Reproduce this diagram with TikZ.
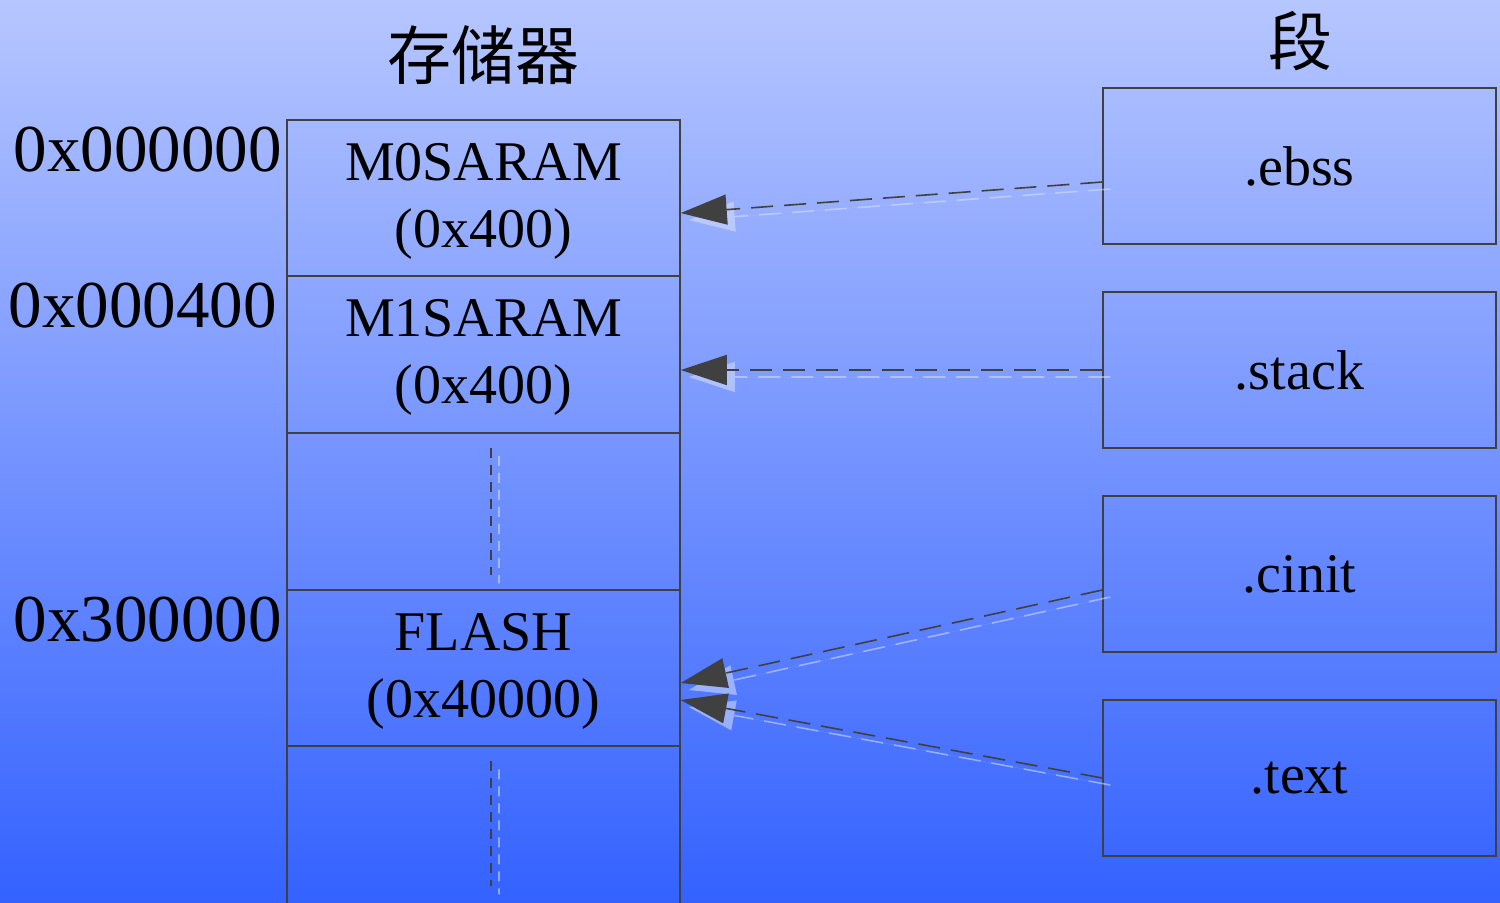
\documentclass[tikz,border=0pt]{standalone}
\usepackage{fontspec}
\setmainfont{Liberation Serif}
\newfontfamily\cjk{Noto Sans CJK SC}
\usetikzlibrary{arrows.meta,calc}
\definecolor{bgtop}{RGB}{182,198,255}
\definecolor{bgbot}{RGB}{52,98,255}
\definecolor{ink}{RGB}{64,64,64}
\definecolor{shade}{RGB}{215,225,255}
\begin{document}
\begin{tikzpicture}[x=0.5pt,y=-0.5pt,
  box/.style={draw=ink, line width=0.75pt, minimum width=196.5pt, minimum height=78pt,
    inner sep=0pt, font=\fontsize{28}{33.5}\selectfont, align=center, text=black},
  twoline/.style={text depth=3pt},
  addr/.style={anchor=east, inner sep=0pt, font=\fontsize{33.5}{40}\selectfont},
  title/.style={inner sep=0pt, font=\cjk\fontsize{32}{38}\selectfont},
  linkline/.style={draw=ink, line width=0.8pt, dash pattern=on 11pt off 5.5pt,
    -{Triangle[length=23pt,width=15pt]}},
  linkshade/.style={draw=shade, fill=shade, line width=0.8pt,
    dash pattern=on 11pt off 5.5pt, -{Triangle[length=23pt,width=15pt]},
    transform canvas={shift={(4pt,-3.5pt)}}},
  gapline/.style={draw=ink, line width=0.8pt, dash pattern=on 5pt off 3.5pt},
  gapshade/.style={draw=shade, line width=0.8pt, dash pattern=on 5pt off 3.5pt,
    transform canvas={shift={(4pt,-4pt)}}},
]
\useasboundingbox (0,0) rectangle (1500,902);
\shade[top color=bgtop, bottom color=bgbot] (0,0) rectangle (1500,902);

% titles
\node[title] (tmem) at (483,55) {存储器};
\node[title] (tseg) at (1300,41) {段};

% memory column
\node[box, twoline] (m0) at (483.5,198) {M0SARAM\\(0x400)};
\node[box, twoline] (m1) at (483.5,354.5) {M1SARAM\\(0x400)};
\node[box] (gap1) at (483.5,511.5) {};
\node[box, twoline] (flash) at (483.5,668) {FLASH\\(0x40000)};
\node[box, minimum height=88pt] (gap2) at (483.5,834) {};

% addresses
\node[addr] (a0) at (282,150) {0x000000};
\node[addr] (a1) at (277,306) {0x000400};
\node[addr] (a2) at (282,620) {0x300000};

% segments
\node[box] (ebss) at (1299.5,166) {.ebss};
\node[box] (stack) at (1299.5,370) {.stack};
\node[box] (cinit) at (1299.5,574) {.cinit};
\node[box] (text) at (1299.5,778) {.text};

% connector end points
\coordinate (s1) at ($(ebss.west)+(0,16)$);
\coordinate (e1) at ($(m0.east)+(0,15)$);
\coordinate (s2) at (stack.west);
\coordinate (e2) at ($(m1.east)+(0,15.5)$);
\coordinate (s3) at ($(cinit.west)+(0,16)$);
\coordinate (e3) at ($(flash.east)+(0,15)$);
\coordinate (s4) at (text.west);
\coordinate (e4) at ($(flash.east)+(0,32)$);

\coordinate (g1a) at ($(gap1.north)+(7.5,15)$);
\coordinate (g1b) at ($(gap1.south)+(7.5,-15)$);
\coordinate (g2a) at ($(gap2.north)+(7.5,16)$);
\coordinate (g2b) at ($(gap2.north)+(7.5,141)$);

% shadows (semi-transparent as a group)
\begin{scope}[transparency group, opacity=0.55]
\draw[linkshade] (s1) -- (e1);
\draw[linkshade] (s2) -- (e2);
\draw[linkshade] (s3) -- (e3);
\draw[linkshade] (s4) -- (e4);
\draw[gapshade] (g1a) -- (g1b);
\draw[gapshade] (g2a) -- (g2b);
\end{scope}

% connectors
\draw[linkline] (s1) -- (e1);
\draw[linkline] (s2) -- (e2);
\draw[linkline] (s3) -- (e3);
\draw[linkline] (s4) -- (e4);
\draw[gapline] (g1a) -- (g1b);
\draw[gapline] (g2a) -- (g2b);
\end{tikzpicture}
\end{document}
